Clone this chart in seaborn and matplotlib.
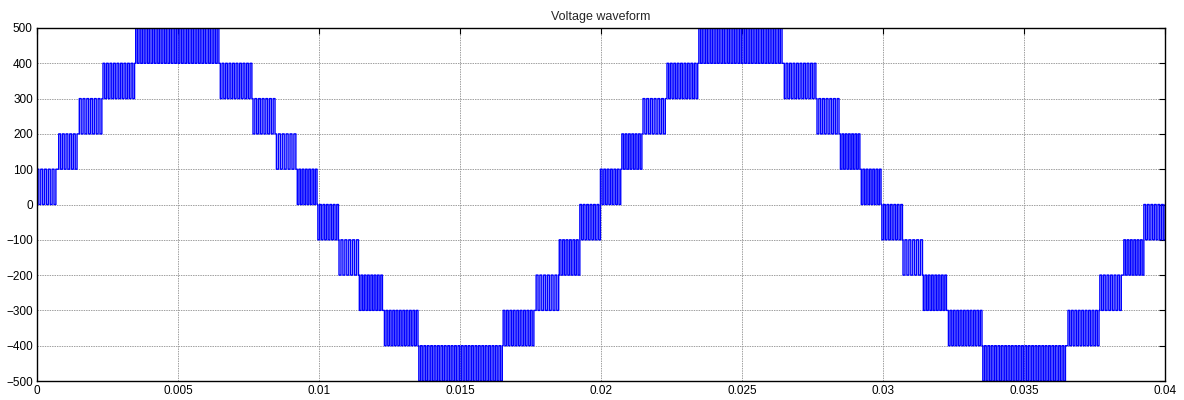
import numpy as np
import pandas as pd
import matplotlib
matplotlib.use("Agg")
import matplotlib.pyplot as plt
import seaborn as sns

# Полосы ступенчатого сигнала (мс)
band_start = [0.00, 0.77, 1.50, 2.34, 3.50, 6.50, 7.66, 8.49, 9.23, 9.96, 10.71, 11.43,
              12.32, 13.54, 16.53, 17.70, 18.52, 19.25,
              19.98, 20.74, 21.49, 22.34, 23.47, 26.50, 27.66, 28.49, 29.23, 29.96, 30.71,
              31.43, 32.32, 33.54, 36.56, 37.69, 38.54, 39.25]
band_end = [0.67, 1.42, 2.30, 3.46, 6.45, 7.62, 8.44, 9.18, 9.93, 10.69, 11.40, 12.25,
            13.51, 16.50, 17.62, 18.50, 19.25, 19.98,
            20.70, 21.45, 22.28, 23.43, 26.42, 27.62, 28.44, 29.18, 29.93, 30.69, 31.40,
            32.25, 33.51, 36.47, 37.66, 38.45, 39.25, 40.00]
band_low = [0, 100, 200, 300, 400, 300, 200, 100, 0, -100, -200, -300, -400, -500, -400, -300, -200, -100,
            0, 100, 200, 300, 400, 300, 200, 100, 0, -100, -200, -300, -400, -500, -400, -300, -200, -100]
step = 100
switch_dt = 0.06  # мс, шаг переключений ШИМ по картинке
start_level = 0
end_level = 0

x_ticks = [0, 0.005, 0.01, 0.015, 0.02, 0.025, 0.03, 0.035, 0.04]
x_labels = ["0", "0.005", "0.01", "0.015", "0.02", "0.025", "0.03", "0.035", "0.04"]
y_ticks = list(range(-500, 501, 100))


def shared(a, b):
    # общий уровень двух соседних полос
    return a + step if b > a else a


# Собираем ступенчатый сигнал
t_pts, v_pts = [0.0], [start_level]
for k in range(len(band_low)):
    lo, hi = band_low[k], band_low[k] + step
    entry = start_level if k == 0 else shared(band_low[k - 1], lo)
    exit_ = end_level if k == len(band_low) - 1 else shared(lo, band_low[k + 1])
    n = max(int(round((band_end[k] - band_start[k]) / switch_dt)), 1)
    need_odd = entry != exit_
    if (n % 2 == 1) != need_odd:
        n += 1
    edges = np.linspace(band_start[k], band_end[k], n)
    cur = entry
    for te in edges:
        cur = hi if cur == lo else lo
        t_pts.append(te / 1000)
        v_pts.append(cur)
t_pts.append(0.04)
v_pts.append(end_level)

df = pd.DataFrame({"t": t_pts, "v": v_pts})

sns.set_style("white")
plt.rcParams["font.family"] = ["Liberation Sans", "DejaVu Sans"]

fig = plt.figure(figsize=(11.84, 4), dpi=100)
ax = fig.add_axes([37 / 1184, 1 - 381 / 400, (1165 - 37) / 1184, (381 - 28) / 400])

sns.lineplot(data=df, x="t", y="v", ax=ax, color="#0000ff", linewidth=1.0,
             drawstyle="steps-post", estimator=None, sort=False)

ax.set_xlim(0, 0.04)
ax.set_ylim(-500, 500)
ax.set_xticks(x_ticks)
ax.set_xticklabels(x_labels)
ax.set_yticks(y_ticks)
ax.set_xlabel("")
ax.set_ylabel("")
ax.grid(True, color="#a0a0a0", linestyle=(0, (1.5, 1)), linewidth=0.7)
ax.tick_params(direction="in", length=4, width=0.8, colors="black", labelsize=8.5,
               top=True, right=True, pad=3)
for s in ax.spines.values():
    s.set_color("black")
    s.set_linewidth(1.0)
ax.set_title("Voltage waveform", fontsize=9, pad=6)

fig.savefig("out.png", dpi=100)
